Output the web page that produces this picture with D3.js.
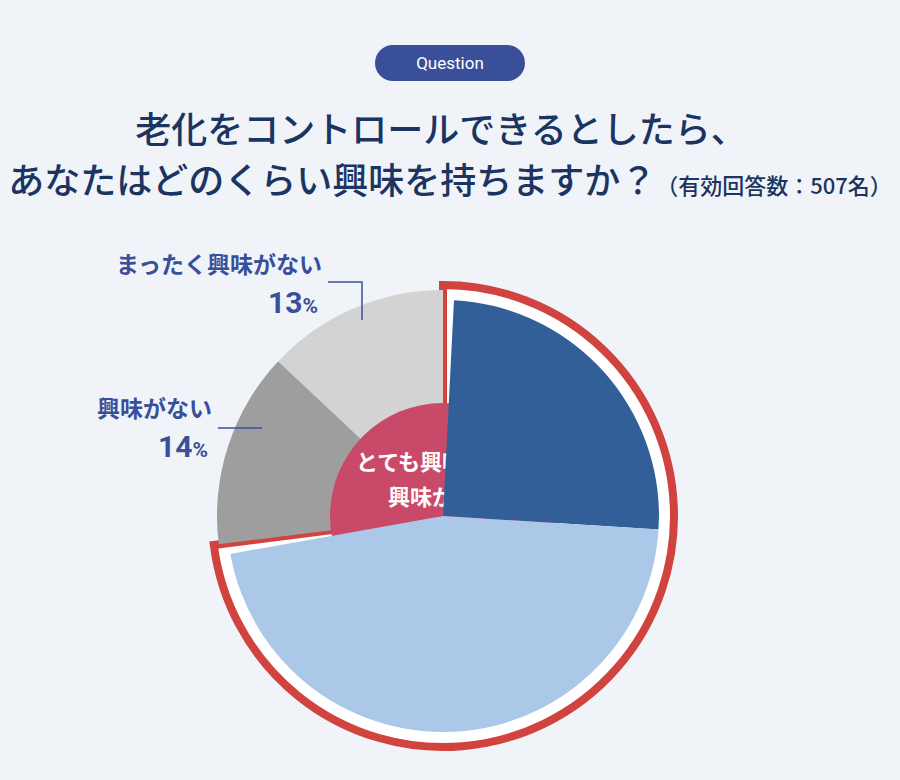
<!DOCTYPE html><html><head><meta charset="utf-8">
<script src="https://cdn.jsdelivr.net/npm/d3@7"></script>
<style>body{margin:0;background:#f0f4f9;font-family:"Noto Sans CJK JP",sans-serif}</style></head><body>
<svg id="c" width="900" height="780"></svg>
<script>
const categories=["とても興味がある","興味がある","興味がない","まったく興味がない"];
const values=[26,47,14,13];
const colors=["#325f98","#acc8e8","#9e9e9e","#d3d3d3"];
const svg=d3.select("#c");
svg.append("rect").attr("width",900).attr("height",780).attr("fill","#f0f4f9");
svg.append("rect").attr("x",375).attr("y",45).attr("width",150).attr("height",36).attr("rx",18).attr("fill","#3a4f9a");
svg.append("text").attr("x",450).attr("y",69).attr("text-anchor","middle").attr("fill","#fff").attr("font-size",17).attr("font-family","Roboto").text("Question");
svg.append("text").attr("x",441).attr("y",143).attr("text-anchor","middle").attr("fill","#1c3461").attr("font-size",36).attr("font-weight",500).text("老化をコントロールできるとしたら、");
const t2=svg.append("text").attr("x",450).attr("y",194).attr("text-anchor","middle").attr("fill","#1c3461").attr("font-size",36).attr("font-weight",500);
t2.append("tspan").text("あなたはどのくらい興味を持ちますか？");
t2.append("tspan").attr("font-size",22).text("（有効回答数：507名）");
const cx=443,cy=516;
const g=svg.append("g").attr("transform",`translate(${cx},${cy})`);
const pie=d3.pie().sort(null)(values);
const hiEnd=pie[1].endAngle;
svg.append("clipPath").attr("id","hc").append("path").attr("transform",`translate(${cx},${cy})`)
  .attr("d",d3.arc().innerRadius(0).outerRadius(216).startAngle(0).endAngle(hiEnd).padAngle(0.1).padRadius(220)());
g.append("path").attr("d",d3.arc().innerRadius(0).outerRadius(231).startAngle(0).endAngle(hiEnd)()).attr("fill","#fff").attr("stroke","#d0433f").attr("stroke-width",8);
const hg=svg.append("g").attr("clip-path","url(#hc)").append("g").attr("transform",`translate(${cx},${cy})`);
pie.forEach((p,i)=>{
  const hi=i<2;
  const a=d3.arc().innerRadius(0).outerRadius(hi?240:226).startAngle(p.startAngle).endAngle(p.endAngle);
  (hi?hg:g).append("path").attr("d",a()).attr("fill",colors[i]);
});
g.append("circle").attr("r",113).attr("fill","#c94a68");
g.append("text").attr("y",-46).attr("text-anchor","middle").attr("fill","#fff").attr("font-size",22).attr("font-weight","bold").text(categories[0]);
g.append("text").attr("y",-11).attr("text-anchor","middle").attr("fill","#fff").attr("font-size",22).attr("font-weight","bold").text(categories[1]);
const tt=g.append("text").attr("x",6).attr("y",68).attr("text-anchor","middle").attr("fill","#fff").attr("font-size",74).attr("font-weight","bold").attr("font-family","Roboto");
tt.append("tspan").text(values[0]+values[1]);tt.append("tspan").attr("font-size",46).text("%");
function lab(x,y,name,v){
  svg.append("text").attr("x",x).attr("y",y).attr("text-anchor","end").attr("fill","#3a4f9a").attr("font-size",23).attr("font-weight","bold").text(name);
  const t=svg.append("text").attr("x",x-4).attr("y",y+40).attr("text-anchor","end").attr("fill","#3a4f9a").attr("font-size",30).attr("font-weight","bold").attr("font-family","Roboto");
  t.append("tspan").text(v);t.append("tspan").attr("font-size",21).text("%");
}
lab(322,273,categories[3],values[3]);
lab(212,417,categories[2],values[2]);
svg.append("path").attr("d","M328,282H362V320").attr("fill","none").attr("stroke","#3a4f9a").attr("stroke-width",1.5);
svg.append("line").attr("x1",218).attr("x2",262).attr("y1",428).attr("y2",428).attr("stroke","#3a4f9a").attr("stroke-width",1.5);
</script></body></html>
